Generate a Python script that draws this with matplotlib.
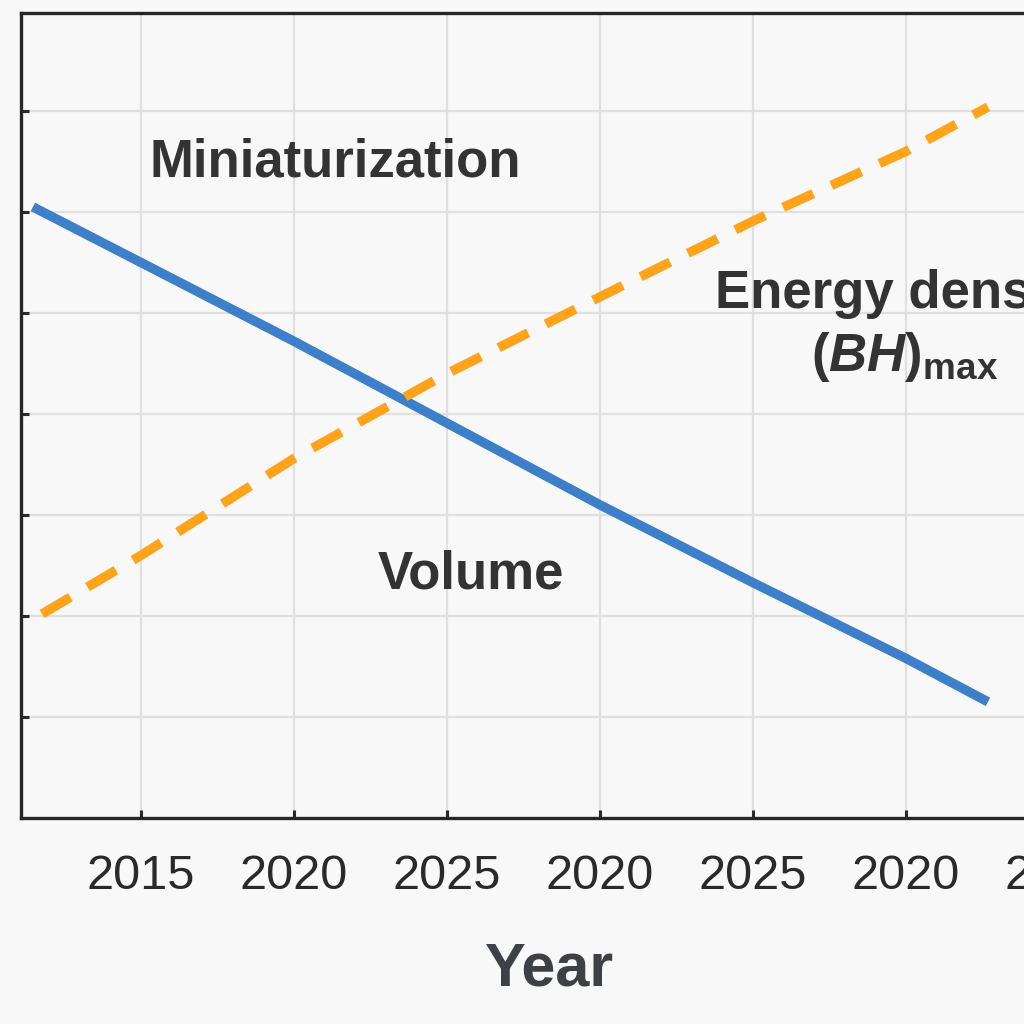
import matplotlib.pyplot as plt
import numpy as np

plt.rcParams['font.family'] = ['Liberation Sans', 'DejaVu Sans']
plt.rcParams['mathtext.fontset'] = 'custom'
plt.rcParams['mathtext.rm'] = 'Liberation Sans:bold'
plt.rcParams['mathtext.it'] = 'Liberation Sans:italic:bold'
plt.rcParams['mathtext.bf'] = 'Liberation Sans:bold'

# tick positions and their (odd) labels
tick_pos = [1, 2, 3, 4, 5, 6, 7]
tick_labels = ['2015', '2020', '2025', '2020', '2025', '2020', '2025']

# volume curve (solid blue)
vol_x = [0.294, 1.0, 2.0, 3.0, 4.0, 5.0, 6.0, 6.536]
vol_y = [6.05, 5.50, 4.72, 3.91, 3.10, 2.33, 1.58, 1.15]

# energy density curve (dashed orange)
en_x = [0.353, 1.0, 2.0, 3.0, 4.0, 5.0, 6.0, 6.536]
en_y = [2.02, 2.60, 3.56, 4.40, 5.16, 5.91, 6.60, 7.04]

bg = '#f8f8f8'
fig = plt.figure(figsize=(10.24, 10.24), dpi=100, facecolor=bg)
ax = fig.add_axes([21 / 1024, 206 / 1024, 1079 / 1024, 805 / 1024])
ax.set_facecolor(bg)

ax.plot(vol_x, vol_y, color='#3d7fc9', lw=6.8, solid_capstyle='butt', zorder=3)
ax.plot(en_x, en_y, color='#ffa41a', lw=6.8, dashes=(3.5, 2.1),
        dash_capstyle='butt', zorder=3)

ax.set_xlim(0.216, 7.268)
ax.set_ylim(0.0, 7.97)
ax.set_xticks(tick_pos)
ax.set_xticklabels(tick_labels, fontsize=35, color='#2a2a2a')
ax.set_yticks([1, 2, 3, 4, 5, 6, 7])
ax.set_yticklabels([])
ax.tick_params(direction='in', length=6, width=2.2, color='#2a2a2a', pad=26)
ax.grid(True, color='#e0e0e0', lw=1.6, zorder=0)

for side in ['left', 'bottom', 'top']:
    ax.spines[side].set_linewidth(2.4)
    ax.spines[side].set_color('#262626')
ax.spines['right'].set_visible(False)

txt = dict(fontsize=38, fontweight='bold', color='#333333')
ax.text(1.059, 6.35, 'Miniaturization', ha='left', va='baseline', **txt)
ax.text(2.549, 2.275, 'Volume', ha='left', va='baseline', **txt)
ax.text(5.99, 5.053, 'Energy density', ha='center', va='baseline', **txt)
ax.text(5.99, 4.43, r'$(\mathit{BH})_{\mathrm{max}}$', ha='center',
        va='baseline', fontsize=38, color='#333333')

fig.text(550 / 1024, 39 / 1024, 'Year', ha='center', va='baseline',
         fontsize=44, fontweight='bold', color='#3d4045')

fig.savefig('out.png', dpi=100, facecolor=bg)
